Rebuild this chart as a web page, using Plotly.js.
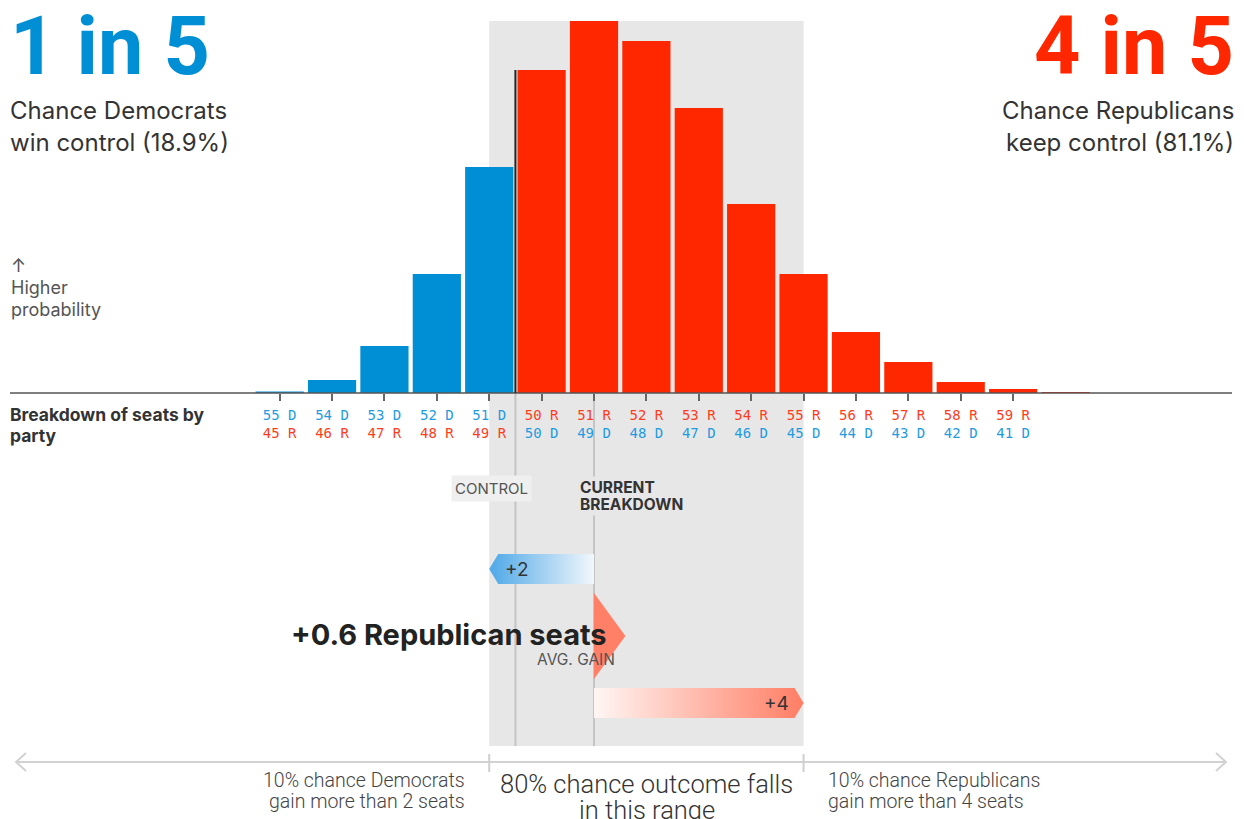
<!DOCTYPE html>
<html><head><meta charset="utf-8">
<script src="https://cdn.plot.ly/plotly-3.0.1.min.js"></script>
<style>html,body{margin:0;padding:0;background:#fff;}#chart{width:1244px;height:819px;}</style>
</head><body><div id="chart"></div>
<script>
// ---------- DATA ----------
const seats = [45,46,47,48,49,50,51,52,53,54,55,56,57,58,59,60];          // Republican seats
const probability = [0.07,0.60,2.18,5.52,10.49,14.99,17.27,16.34,13.23,8.77,5.52,2.83,1.44,0.51,0.19,0.05]; // %
const labelSeats = [45,46,47,48,49,50,51,52,53,54,55,56,57,58,59];
const totalSeats = 100;
const controlSeats = 50;     // Republicans keep control at 50+
const currentSeats = 51;     // current breakdown
const low10 = 49;            // 10th percentile outcome
const high90 = 55;           // 90th percentile outcome
const avgGain = 0.6;         // average Republican gain
const demChance = 18.9, repChance = 81.1;
const demGain = currentSeats - low10, repGain = high90 - currentSeats;

// ---------- LAYOUT CONSTANTS ----------
const W = 1244, H = 819;
const basePx = 393, pxPerSeat = 52.39, refPx = 594, pxPerPct = 21.54;
const blue = '#008fd5', red = '#ff2700', blueT = '#1f9ce0', redT = '#ff3c1c';
const FT = 'Inter, "Noto Sans", sans-serif';
const FR = 'Roboto, "Noto Sans", sans-serif';
const xRange = [currentSeats - refPx/pxPerSeat, currentSeats + (W-refPx)/pxPerSeat];
const yRange = [-(H-basePx)/pxPerPct, basePx/pxPerPct];
const yd = px => (basePx - px)/pxPerPct;      // pixel row -> data y
const px2x = px => px / W, py2y = py => 1 - py / H;

// ---------- TRACES ----------
const barColors = seats.map(s => s < controlSeats ? blue : red);
const traces = [{
  type:'bar', x:seats, y:probability, marker:{color:barColors, line:{width:0}},
  hoverinfo:'skip', showlegend:false
}];

const tip = 9/pxPerSeat;
// blue "+2" arrow
const bC = yd(569), bH = 15/pxPerPct;
traces.push({type:'scatter', mode:'lines', x:[low10, low10+tip, currentSeats, currentSeats, low10+tip, low10],
  y:[bC, bC+bH, bC+bH, bC-bH, bC-bH, bC], fill:'toself', line:{width:0, color:'rgba(0,0,0,0)'},
  fillgradient:{type:'horizontal', colorscale:[[0,'#4ea8e7'],[1,'#f2f7fc']]}, hoverinfo:'skip', showlegend:false});
// red "+4" arrow
const rC = yd(703), rH = 15/pxPerPct;
traces.push({type:'scatter', mode:'lines', x:[currentSeats, high90-tip, high90, high90-tip, currentSeats, currentSeats],
  y:[rC+rH, rC+rH, rC, rC-rH, rC-rH, rC+rH], fill:'toself', line:{width:0, color:'rgba(0,0,0,0)'},
  fillgradient:{type:'horizontal', colorscale:[[0,'#fff6f4'],[1,'#ff7d64']]}, hoverinfo:'skip', showlegend:false});
// avg gain triangle
traces.push({type:'scatter', mode:'lines', x:[currentSeats, currentSeats+avgGain, currentSeats, currentSeats],
  y:[yd(593), yd(636), yd(679), yd(593)], fill:'toself', fillcolor:'#ff8066', line:{width:0, color:'rgba(0,0,0,0)'},
  hoverinfo:'skip', showlegend:false});
// hidden trace for second label axis
traces.push({type:'scatter', mode:'markers', x:[labelSeats[0]], y:[0], xaxis:'x2', yaxis:'y',
  marker:{opacity:0}, hoverinfo:'skip', showlegend:false});

// ---------- TICK TEXT ----------
const line1 = labelSeats.map(s => s < controlSeats
  ? `<span style="color:${blueT}">${totalSeats-s} D</span>` : `<span style="color:${redT}">${s} R</span>`);
const line2 = labelSeats.map(s => s < controlSeats
  ? `<span style="color:${redT}">${s} R</span>` : `<span style="color:${blueT}">${totalSeats-s} D</span>`);

// ---------- SHAPES ----------
const ctrlX = controlSeats - 0.5;
const maxP = Math.max(...probability);
const shapes = [
  {type:'rect', xref:'x', yref:'y', x0:low10, x1:high90, y0:yd(746), y1:maxP, fillcolor:'#e7e7e7', line:{width:0}, layer:'below'},
  {type:'line', xref:'x', yref:'y', x0:ctrlX, x1:ctrlX, y0:0, y1:yd(746), line:{color:'#c4c4c4', width:2}, layer:'below'},
  {type:'line', xref:'x', yref:'y', x0:currentSeats, x1:currentSeats, y0:0, y1:yd(746), line:{color:'#c4c4c4', width:2}, layer:'below'},
  {type:'line', xref:'paper', yref:'y', x0:px2x(10), x1:px2x(1232), y0:0, y1:0, line:{color:'#555', width:1.5}},
  {type:'line', xref:'x', yref:'y', x0:ctrlX, x1:ctrlX, y0:0, y1:probability[seats.indexOf(controlSeats)], line:{color:'#222', width:2}},
  // bottom range line
  {type:'line', xref:'paper', yref:'paper', x0:px2x(16), x1:px2x(1226), y0:py2y(762), y1:py2y(762), line:{color:'#d2d2d2', width:2}},
  {type:'path', xref:'paper', yref:'paper', path:`M ${px2x(26)} ${py2y(753)} L ${px2x(16)} ${py2y(762)} L ${px2x(26)} ${py2y(771)}`, line:{color:'#d2d2d2', width:2}},
  {type:'path', xref:'paper', yref:'paper', path:`M ${px2x(1216)} ${py2y(753)} L ${px2x(1226)} ${py2y(762)} L ${px2x(1216)} ${py2y(771)}`, line:{color:'#d2d2d2', width:2}},
  {type:'line', xref:'x', yref:'paper', x0:low10, x1:low10, y0:py2y(754), y1:py2y(772), line:{color:'#cfcfcf', width:2}},
  {type:'line', xref:'x', yref:'paper', x0:high90, x1:high90, y0:py2y(754), y1:py2y(772), line:{color:'#cfcfcf', width:2}}
];

// ---------- ANNOTATIONS ----------
function A(text, x, y, o) {
  o = o || {};
  return Object.assign({text, x:px2x(x), y:py2y(y), xref:'paper', yref:'paper', showarrow:false,
    xanchor:o.xa || 'left', yanchor:'middle',
    font:{family:o.f || FT, size:o.s || 16, color:o.c || '#333', weight:o.w || 400}}, o.extra || {});
}
const annotations = [
  A(`${Math.round(demChance/20)} in 5`, 8, 46, {f:FR, s:81, w:700, c:blue}),
  A(`${Math.round(repChance/20)} in 5`, 1236, 46, {f:FR, s:81, w:700, c:red, xa:'right'}),
  A('Chance Democrats', 8, 111, {s:24}),
  A(`win control (${demChance}%)`, 8, 142, {s:24}),
  A('Chance Republicans', 1236, 111, {s:24, xa:'right'}),
  A(`keep control (${repChance}%)`, 1236, 142, {s:24, xa:'right'}),
  A('↑', 9, 266, {s:18, c:'#555'}),
  A('Higher', 9, 287, {s:18, c:'#555'}),
  A('probability', 9, 309, {s:18, c:'#555'}),
  A('Breakdown of seats by', 8, 414, {s:17.5, w:700}),
  A('party', 8, 435, {s:17.5, w:700}),
  A('CONTROL', 491, 488, {s:15, c:'#555', xa:'center', extra:{bgcolor:'#efefef', borderpad:3}}),
  A('CURRENT', 578, 487, {s:15.5, w:700, extra:{bgcolor:'#e7e7e7'}}),
  A('BREAKDOWN', 578, 504, {s:15.5, w:700, extra:{bgcolor:'#e7e7e7'}}),
  A(`+${demGain}`, 517, 569, {s:19, xa:'center'}),
  A(`+${repGain}`, 776, 703, {s:19, xa:'center'}),
  A(`+${avgGain} Republican seats`, 609, 634, {s:29, w:700, c:'#222', xa:'right'}),
  A('AVG. GAIN', 617, 659, {s:15.5, c:'#555', xa:'right'}),
  A('10% chance Democrats', 467, 780, {f:FR, s:19.5, c:'#444', xa:'right', w:300}),
  A(`gain more than ${demGain} seats`, 467, 801, {f:FR, s:19.5, c:'#444', xa:'right', w:300}),
  A('80% chance outcome falls', 646.5, 784, {f:FR, s:25.5, c:'#333', xa:'center', w:300}),
  A('in this range', 646.5, 810, {f:FR, s:25.5, c:'#333', xa:'center', w:300}),
  A('10% chance Republicans', 826, 780, {f:FR, s:19.5, c:'#444', w:300}),
  A(`gain more than ${repGain} seats`, 826, 801, {f:FR, s:19.5, c:'#444', w:300})
];

const tickFont = {family:'"DejaVu Sans Mono", monospace', size:14};
const layout = {
  width:W, height:H, margin:{l:0,r:0,t:0,b:0}, paper_bgcolor:'#fff', plot_bgcolor:'rgba(0,0,0,0)',
  bargap:0.08, showlegend:false, hovermode:false,
  xaxis:{range:xRange, domain:[0,1], anchor:'free', position:1-basePx/H, tickvals:labelSeats, ticktext:line1,
    ticks:'outside', ticklen:7, tickwidth:2, tickcolor:'#666', showgrid:false, zeroline:false, showline:false,
    tickfont:tickFont, ticklabelstandoff:2, fixedrange:true},
  xaxis2:{range:xRange, overlaying:'x', anchor:'free', position:1-423/H, tickvals:labelSeats, ticktext:line2,
    ticks:'', showgrid:false, zeroline:false, showline:false, tickfont:tickFont, fixedrange:true},
  yaxis:{range:yRange, domain:[0,1], visible:false, fixedrange:true},
  shapes, annotations
};
Plotly.newPlot('chart', traces, layout, {displayModeBar:false, staticPlot:true});
</script></body></html>
